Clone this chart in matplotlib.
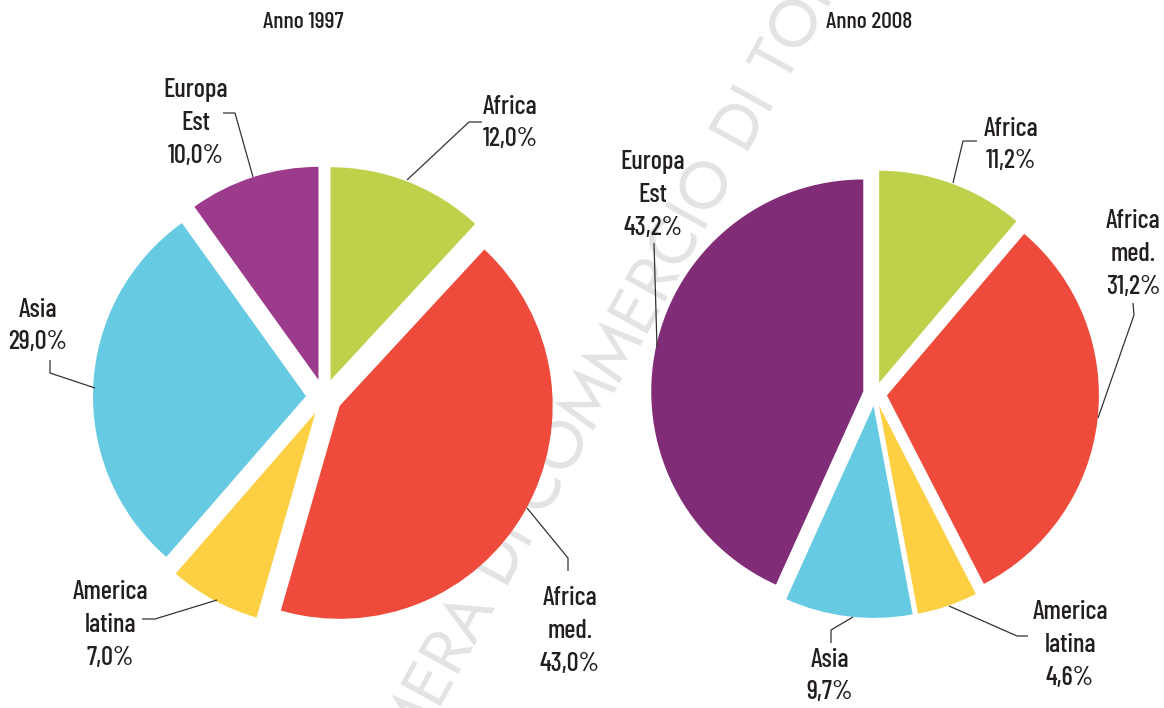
import matplotlib
matplotlib.use("Agg")
import matplotlib.pyplot as plt
from matplotlib import font_manager

W, H = 1164, 708

# data
regions = ["Africa", "Africa\nmed.", "America\nlatina", "Asia", "Europa\nEst"]
share_1997 = [12.0, 43.0, 7.0, 29.0, 10.0]
share_2008 = [11.2, 31.2, 4.6, 9.7, 43.2]
titles = ["Anno 1997", "Anno 2008"]

colors_1997 = ["#bfd14b", "#ef4b3c", "#fdd044", "#66cae2", "#9c3a8c"]
colors_2008 = ["#bfd14b", "#ef4b3c", "#fdd044", "#66cae2", "#812c77"]

# layout (pixel coords, y from top)
pies = [
    dict(center=(324, 397), radius=213, explode=18, title_xy=(303, 22),
         label_xy=[(510, 123), (570, 631), (110, 625), (38, 326), (196, 123)],
         leaders=[[(482, 122), (469, 122), (407, 180)],
                  [(568, 571), (568, 558), (527, 508)],
                  [(142, 619), (155, 619), (217, 600)],
                  [(50, 360), (50, 373), (95, 388)],
                  [(223, 113), (235, 113), (253, 177)]]),
    dict(center=(875, 394), radius=212, explode=12, title_xy=(869, 22),
         label_xy=[(1011, 145), (1133, 254), (1070, 645), (830, 676), (653, 195)],
         leaders=[[(977, 141), (963, 141), (953, 183)],
                  [(1133, 303), (1134, 315), (1098, 418)],
                  [(1028, 636), (1017, 636), (949, 606)],
                  [(831, 643), (831, 630), (853, 617)],
                  [(654, 243), (657, 347)]]),
]

names = {f.name for f in font_manager.fontManager.ttflist}
FONT = "Barlow Condensed" if "Barlow Condensed" in names else "DejaVu Sans"
WM_FONT = "Jost" if "Jost" in names else "DejaVu Sans"
TXT = "#231f20"

fig = plt.figure(figsize=(W / 100, H / 100), dpi=100)
ax = fig.add_axes([0, 0, 1, 1])

# watermark, sits behind the pies
ax.text(620, H - 345, "CAMERA DI COMMERCIO DI TORINO", rotation=61,
        rotation_mode="anchor", ha="center", va="center", fontsize=48,
        family=WM_FONT, fontweight="light", color="#e2e3e5", zorder=0)

for values, cols, cfg, title in zip([share_1997, share_2008],
                                    [colors_1997, colors_2008], pies, titles):
    cx, cy = cfg["center"]
    ax.pie(values, colors=cols, startangle=90, counterclock=False,
           center=(cx, H - cy), radius=cfg["radius"],
           explode=[cfg["explode"]] * len(values),
           wedgeprops=dict(linewidth=0, zorder=2), frame=False)
    tx, ty = cfg["title_xy"]
    ax.text(tx, H - ty, title, ha="center", va="center", fontsize=17,
            family=FONT, fontweight="medium", color=TXT)
    for name, v, (lx, ly), pts in zip(regions, values, cfg["label_xy"], cfg["leaders"]):
        lab = name + "\n" + f"{v:.1f}".replace(".", ",") + "%"
        ax.text(lx, H - ly, lab, ha="center", va="center", fontsize=19,
                linespacing=1.45, family=FONT, fontweight="medium", color=TXT, zorder=4)
        ax.plot([p[0] for p in pts], [H - p[1] for p in pts], color="#333333",
                lw=0.9, zorder=3, solid_capstyle="butt")

ax.set_xlim(0, W)
ax.set_ylim(0, H)
ax.set_aspect("equal")
ax.axis("off")

fig.savefig("out.png", dpi=100, facecolor="white")
